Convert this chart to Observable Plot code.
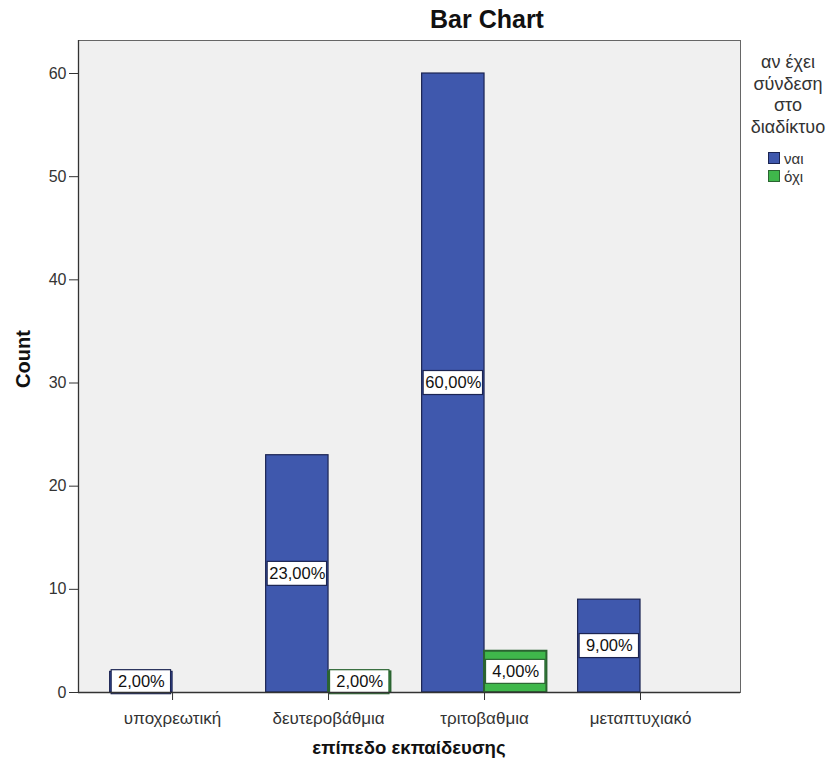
<!DOCTYPE html>
<html>
<head>
<meta charset="utf-8">
<script src="https://cdn.jsdelivr.net/npm/d3@7"></script>
<script src="https://cdn.jsdelivr.net/npm/@observablehq/plot@0.6"></script>
<style>
  html, body { margin: 0; padding: 0; background: #fff; }
  #wrap { position: relative; width: 836px; height: 764px; font-family: "Liberation Sans", Arial, sans-serif; color: #222; }
  #wrap svg { position: absolute; left: 0; top: 0; }
  .title { position: absolute; left: 337px; width: 300px; top: 7px; line-height: 25px; text-align: center; font-weight: bold; font-size: 25px; color: #111; }
  .ylab { position: absolute; left: 23px; top: 359px; transform: translate(-50%, -50%) rotate(-90deg); font-weight: bold; font-size: 20px; line-height: 20px; color: #111; white-space: nowrap; }
  .xlab { position: absolute; left: 259px; width: 300px; top: 737px; text-align: center; font-weight: bold; font-size: 18.6px; color: #111; white-space: nowrap; }
  .legend { position: absolute; left: 738px; width: 100px; top: 52px; text-align: center; color: #333; }
  .legend .lt { font-size: 18px; line-height: 21.5px; }
  .legend .items { position: absolute; top: 97px; left: 30px; text-align: left; font-size: 15px; }
  .legend .it { display: flex; align-items: center; height: 18px; }
  .legend .sw { width: 12px; height: 12px; margin-right: 4px; box-sizing: border-box; border: 1px solid #333; }
</style>
</head>
<body>
<div id="wrap"></div>
<script>
const categories = ["υποχρεωτική", "δευτεροβάθμια", "τριτοβαθμια", "μεταπτυχιακό"];
const groups = ["ναι", "όχι"];
const countsYes = [2, 23, 60, 9];
const countsNo = [0, 2, 4, 0];
const yTicks = [0, 10, 20, 30, 40, 50, 60];
const groupFill = ["#3f58ad", "#3fb74b"];
const groupStroke = ["#1b2452", "#2b6431"];
const titleText = "Bar Chart";
const legendTitle = ["αν έχει", "σύνδεση", "στο", "διαδίκτυο"];
const xTitle = "επίπεδο εκπαίδευσης";
const yTitle = "Count";

const total = d3.sum(countsYes) + d3.sum(countsNo);
const rows = [];
categories.forEach((c, i) => {
  [countsYes[i], countsNo[i]].forEach((v, g) => {
    if (v > 0) rows.push({cat: c, idx: i, g, group: groups[g], count: v,
      pct: (v / total * 100).toFixed(2).replace(".", ",") + "%"});
  });
});
const halfW = 0.4;
const x1 = d => d.g === 0 ? d.idx - halfW : d.idx;
const x2 = d => d.g === 0 ? d.idx : d.idx + halfW;

const chart = Plot.plot({
  width: 836,
  height: 764,
  marginTop: 40,
  marginLeft: 78,
  marginRight: 96,
  marginBottom: 72,
  style: {fontFamily: '"Liberation Sans", Arial, sans-serif', fontSize: "16px", color: "#333", background: "transparent"},
  x: {domain: [-0.603, 3.641], ticks: [0, 1, 2, 3], tickFormat: i => categories[i], tickSize: 8, tickPadding: 11, label: null},
  y: {domain: [0, 63.2], ticks: yTicks, tickSize: 9, tickPadding: 3, label: null},
  marks: [
    Plot.frame({fill: "#f0f0f0", stroke: "#666"}),
    Plot.rect(rows, {x1, x2, y1: 0, y2: "count", fill: d => groupFill[d.g], stroke: d => groupStroke[d.g], strokeWidth: d => d.g === 1 ? 2 : 1.2}),
    Plot.rect(rows, {x1, x2, y1: d => d.count / 2, y2: d => d.count / 2, insetLeft: 1.5, insetRight: 1.5, insetTop: -12, insetBottom: -12, fill: "white", stroke: d => groupStroke[d.g], strokeWidth: 1.2}),
    Plot.text(rows, {x: d => (x1(d) + x2(d)) / 2, y: d => d.count / 2, text: "pct", fill: "#111", fontSize: 16.5}),
    Plot.ruleY([0], {stroke: "#333", strokeWidth: 1.3}),
    Plot.ruleX([-0.603], {stroke: "#333", strokeWidth: 1.3})
  ]
});

const wrap = document.getElementById("wrap");
wrap.appendChild(chart);
// x tick labels are drawn larger than the y tick labels in the reference
chart.querySelectorAll('g[aria-label="x-axis tick label"] text, g[aria-label="x-axis"] text').forEach(el => el.setAttribute("font-size", "17"));

const t = document.createElement("div"); t.className = "title"; t.textContent = titleText; wrap.appendChild(t);
const yl = document.createElement("div"); yl.className = "ylab"; yl.textContent = yTitle; wrap.appendChild(yl);
const xl = document.createElement("div"); xl.className = "xlab"; xl.textContent = xTitle; wrap.appendChild(xl);

const lg = document.createElement("div"); lg.className = "legend";
legendTitle.forEach(s => { const d = document.createElement("div"); d.className = "lt"; d.textContent = s; lg.appendChild(d); });
const items = document.createElement("div"); items.className = "items";
groups.forEach((gname, g) => {
  const it = document.createElement("div"); it.className = "it";
  const sw = document.createElement("span"); sw.className = "sw"; sw.style.background = groupFill[g]; sw.style.borderColor = groupStroke[g];
  const lab = document.createElement("span"); lab.textContent = gname;
  it.appendChild(sw); it.appendChild(lab); items.appendChild(it);
});
lg.appendChild(items);
wrap.appendChild(lg);
</script>
</body>
</html>
